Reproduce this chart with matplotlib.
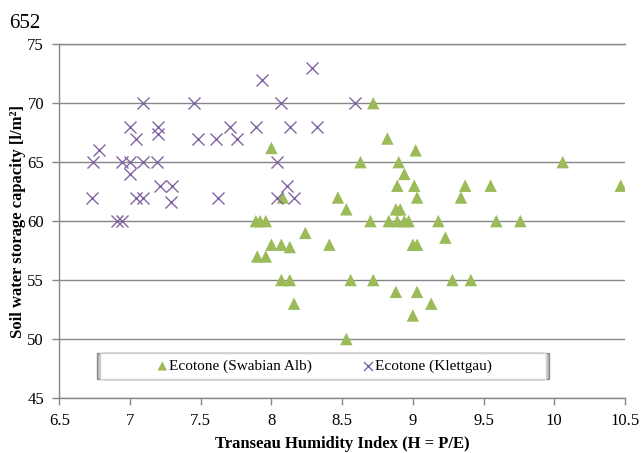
import matplotlib
matplotlib.use("Agg")
import matplotlib.pyplot as plt
from matplotlib.patches import Rectangle, Shadow

plt.rcParams['font.family'] = ['Liberation Serif', 'DejaVu Serif']

# Ecotone (Swabian Alb) - triangles
swabian_h = [8.72, 8.82, 8.00, 9.02, 8.63, 8.90, 10.06, 8.94,
             8.89, 9.01, 9.37, 9.55, 10.47, 8.08, 8.47, 9.03, 9.34,
             8.53, 8.88, 8.91, 7.89, 7.92, 7.96, 8.70, 8.83, 8.89, 8.94,
             8.97, 9.18, 9.59, 9.76, 8.24, 9.23, 8.00, 8.07, 8.13, 8.41,
             9.00, 9.03, 7.90, 7.96, 8.07, 8.13, 8.56, 8.72, 9.28, 9.41,
             8.88, 9.03, 8.16, 9.13, 9.00, 8.53]
swabian_swc = [70, 67, 66.2, 66, 65, 65, 65, 64,
               63, 63, 63, 63, 63, 62, 62, 62, 62,
               61, 61, 61, 60, 60, 60, 60, 60, 60, 60,
               60, 60, 60, 60, 59, 58.6, 58, 58, 57.8, 58,
               58, 58, 57, 57, 55, 55, 55, 55, 55, 55,
               54, 54, 53, 53, 52, 50]

# Ecotone (Klettgau) - crosses
klett_h = [7.09, 7.45, 7.00, 7.20, 7.20, 7.04, 7.48, 7.61, 7.71, 7.76,
           7.89, 6.78, 6.74, 6.94, 7.00, 7.09, 7.19, 7.00, 7.21, 7.30,
           6.73, 7.04, 7.09, 7.29, 7.62, 6.91, 6.94, 7.93, 8.29, 8.07,
           8.59, 8.13, 8.32, 8.04, 8.11, 8.04, 8.16]
klett_swc = [70, 70, 68, 68, 67.4, 67, 67, 67, 68, 67,
             68, 66, 65, 65, 65, 65, 65, 64, 63, 63,
             62, 62, 62, 61.6, 62, 60, 60, 72, 73, 70,
             70, 68, 68, 65, 63, 62, 62]

green = '#9BBB59'
purple = '#8064A2'
grey = '#868686'

fig = plt.figure(figsize=(6.41, 4.53), dpi=100)
ax = fig.add_axes([0.0925, 0.1214, 0.8825, 0.781])

ax.scatter(swabian_h, swabian_swc, marker='^', s=80, color=green,
           edgecolors='none', label='Ecotone (Swabian Alb)', zorder=3)
ax.scatter(klett_h, klett_swc, marker='x', s=75, color=purple,
           linewidths=1.0, label='Ecotone (Klettgau)', zorder=3)

ax.set_xlim(6.5, 10.5)
ax.set_ylim(45, 75)
ax.set_xticks([6.5, 7, 7.5, 8, 8.5, 9, 9.5, 10, 10.5])
ax.set_xticklabels(['6.5', '7', '7.5', '8', '8.5', '9', '9.5', '10', '10.5'])
ax.set_yticks([45, 50, 55, 60, 65, 70, 75])

ax.yaxis.grid(True, color=grey, lw=1)
ax.set_axisbelow(True)
ax.spines['right'].set_visible(False)
for side in ['left', 'bottom', 'top']:
    ax.spines[side].set_color(grey)
    ax.spines[side].set_linewidth(1)
ax.tick_params(axis='both', colors=grey, labelcolor='black',
               labelsize=12, length=5, width=1)
ax.tick_params(axis='y', pad=6)
ax.tick_params(axis='x', pad=6)

ax.set_xlabel('Transeau Humidity Index (H = P/E)', fontsize=12,
              fontweight='bold', labelpad=5)
ax.set_ylabel('Soil water storage capacity [l/m²]', fontsize=12,
              fontweight='bold', labelpad=1)

# legend box with a soft shadow on the sides
box = Rectangle((0.072, 0.054), 0.788, 0.072, transform=ax.transAxes,
                facecolor='white', edgecolor='#d0d0d0', lw=1, zorder=4)
ax.add_patch(Shadow(box, -0.004, 0, facecolor='#999999', alpha=0.6, zorder=3.9))
ax.add_patch(Shadow(box, 0.004, 0, facecolor='#999999', alpha=0.6, zorder=3.9))
ax.add_patch(box)
leg = ax.legend(loc='center', bbox_to_anchor=(0.467, 0.09), ncol=2,
                frameon=False, fontsize=11, handletextpad=0.0,
                handlelength=0.9, columnspacing=3.2, markerscale=0.75,
                borderpad=0.2)
leg.set_zorder(5)

fig.text(0.014, 0.97, '652', fontsize=15, va='top', ha='left')

fig.savefig('out.png', dpi=100)
